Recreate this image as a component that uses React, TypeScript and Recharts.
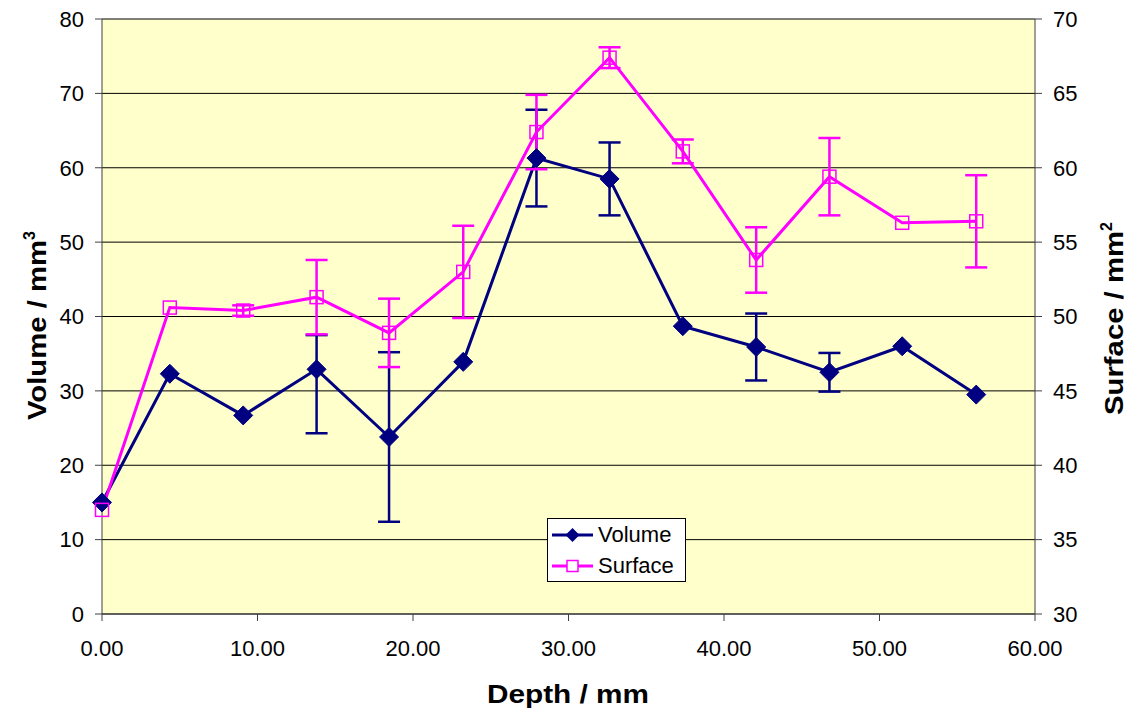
import React from 'react';
import { ComposedChart, Line, XAxis, YAxis, CartesianGrid, ErrorBar, Legend, Label } from 'recharts';

// values
const depth = [0, 4.36, 9.08, 13.8, 18.46, 23.23, 27.94, 32.64, 37.35, 42.07, 46.78, 51.46, 56.22];
const volume = [15.0, 32.3, 26.7, 32.9, 23.8, 33.9, 61.3, 58.5, 38.7, 35.9, 32.5, 36.0, 29.5];
// [below, above]
const volumeErr = [0, 0, 0, [8.6, 4.6], 11.4, 0, 6.5, 4.9, 0, 4.5, 2.6, 0, 0];
const surface = [37.0, 50.6, 50.4, 51.3, 48.9, 53.0, 62.4, 67.4, 61.1, 53.8, 59.4, 56.3, 56.4];
const surfaceErr = [0, 0, 0.35, 2.5, 2.3, 3.1, 2.5, 0.7, 0.8, 2.2, 2.6, 0, 3.1];

const xTicks = [0, 10, 20, 30, 40, 50, 60];
const leftTicks = [0, 10, 20, 30, 40, 50, 60, 70, 80];
const rightTicks = [30, 35, 40, 45, 50, 55, 60, 65, 70];

const data = depth.map((d, i) => ({
    depth: d,
    volume: volume[i],
    volumeErr: volumeErr[i],
    surface: surface[i],
    surfaceErr: surfaceErr[i],
}));

const NAVY = '#000080';
const PINK = '#FF00FF';
const BG = '#FFFFCC';
const FONT = '"Liberation Sans", Arial, sans-serif';

const Diamond = (props: any) => {
    const { cx, cy, index } = props;
    if (cx == null || cy == null) return <g key={`vd-${index}`} />;
    const r = 9.5;
    return (
        <polygon
            key={`vd-${index}`}
            points={`${cx},${cy - r} ${cx + r},${cy} ${cx},${cy + r} ${cx - r},${cy}`}
            fill={NAVY}
            stroke={NAVY}
        />
    );
};

const Square = (props: any) => {
    const { cx, cy, index } = props;
    if (cx == null || cy == null) return <g key={`sq-${index}`} />;
    return (
        <rect key={`sq-${index}`} x={cx - 6.5} y={cy - 6.5} width={13} height={13} fill="none" stroke={PINK} strokeWidth={1.5} />
    );
};

const LegendBox = () => (
    <div
        style={{
            boxSizing: 'border-box',
            width: 139,
            height: 64,
            border: '1px solid #000',
            background: '#fff',
            paddingLeft: 4,
            fontFamily: FONT,
            fontSize: 22,
            color: '#000',
        }}
    >
        <div style={{ height: 31, display: 'flex', alignItems: 'center' }}>
            <svg width={41} height={20}>
                <line x1={0} y1={10} x2={41} y2={10} stroke={NAVY} strokeWidth={3} />
                <polygon points="20.5,3 27.5,10 20.5,17 13.5,10" fill={NAVY} />
            </svg>
            <span style={{ marginLeft: 5 }}>Volume</span>
        </div>
        <div style={{ height: 31, display: 'flex', alignItems: 'center' }}>
            <svg width={41} height={20}>
                <line x1={0} y1={10} x2={41} y2={10} stroke={PINK} strokeWidth={3} />
                <rect x={15} y={4.5} width={11} height={11} fill="#fff" stroke={PINK} strokeWidth={1.5} />
            </svg>
            <span style={{ marginLeft: 5 }}>Surface</span>
        </div>
    </div>
);

const tickStyle = { fill: '#000', fontSize: 22, fontFamily: FONT };

export default function App() {
    return (
        <div style={{ position: 'absolute', left: 0, top: 0, background: '#fff' }}>
            <ComposedChart width={1133} height={711} data={data} margin={{ top: 19, right: 0, bottom: 0, left: 0 }}>
                <CartesianGrid yAxisId="left" vertical={false} stroke="#000" fill={BG} fillOpacity={1} />
                <XAxis
                    dataKey="depth"
                    type="number"
                    domain={[0, 60]}
                    ticks={xTicks}
                    tickFormatter={(v: number) => v.toFixed(2)}
                    height={97}
                    tickSize={7}
                    tickMargin={19}
                    stroke="#404040"
                    tick={tickStyle}
                >
                    <Label
                        content={() => (
                            <text
                                x={568}
                                y={703}
                                textAnchor="middle"
                                fontFamily={FONT}
                                fontWeight="bold"
                                fontSize={26}
                                textLength={162}
                                lengthAdjust="spacingAndGlyphs"
                            >
                                Depth / mm
                            </text>
                        )}
                    />
                </XAxis>
                <YAxis
                    yAxisId="left"
                    domain={[0, 80]}
                    ticks={leftTicks}
                    width={102}
                    tickSize={7}
                    tickMargin={11}
                    stroke="#404040"
                    tick={tickStyle}
                >
                    <Label
                        content={() => (
                            <text
                                x={46}
                                y={420}
                                transform="rotate(-90 46 420)"
                                fontFamily={FONT}
                                fontWeight="bold"
                                fontSize={26}
                            >
                                <tspan textLength={180} lengthAdjust="spacingAndGlyphs">Volume / mm</tspan>
                                <tspan dy={-11} fontSize={16}>3</tspan>
                            </text>
                        )}
                    />
                </YAxis>
                <YAxis
                    yAxisId="right"
                    orientation="right"
                    domain={[30, 70]}
                    ticks={rightTicks}
                    width={98}
                    tickSize={7}
                    tickMargin={11}
                    stroke="#404040"
                    tick={tickStyle}
                >
                    <Label
                        content={() => (
                            <text
                                x={1123}
                                y={415}
                                transform="rotate(-90 1123 415)"
                                fontFamily={FONT}
                                fontWeight="bold"
                                fontSize={26}
                            >
                                <tspan textLength={184} lengthAdjust="spacingAndGlyphs">Surface / mm</tspan>
                                <tspan dy={-11} fontSize={16}>2</tspan>
                            </text>
                        )}
                    />
                </YAxis>
                <Legend
                    layout="horizontal"
                    verticalAlign="middle"
                    align="center"
                    content={() => <LegendBox />}
                    wrapperStyle={{ left: 547, top: 518, width: 139, height: 64 }}
                />
                <Line
                    yAxisId="left"
                    dataKey="volume"
                    stroke={NAVY}
                    strokeWidth={3}
                    dot={Diamond}
                    activeDot={false}
                    isAnimationActive={false}
                >
                    <ErrorBar dataKey="volumeErr" direction="y" width={11} stroke={NAVY} strokeWidth={2.5} isAnimationActive={false} />
                </Line>
                <Line
                    yAxisId="right"
                    dataKey="surface"
                    stroke={PINK}
                    strokeWidth={3}
                    dot={Square}
                    activeDot={false}
                    isAnimationActive={false}
                >
                    <ErrorBar dataKey="surfaceErr" direction="y" width={11} stroke={PINK} strokeWidth={2.5} isAnimationActive={false} />
                </Line>
            </ComposedChart>
        </div>
    );
}
